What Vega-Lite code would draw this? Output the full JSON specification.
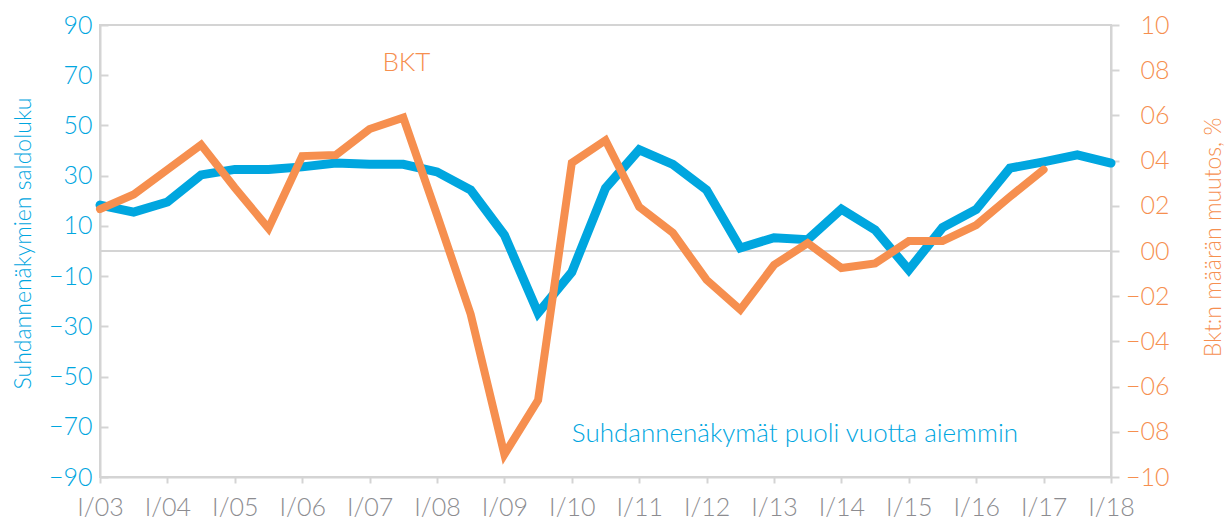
{
  "$schema": "https://vega.github.io/schema/vega-lite/v6.json",
  "width": 1011,
  "height": 452,
  "autosize": {"type": "none"},
  "padding": {"left": 100, "top": 25, "right": 120, "bottom": 43},
  "background": "white",
  "config": {
    "font": "Lato",
    "view": {"stroke": "#d4d4d4", "strokeWidth": 2},
    "axis": {
      "grid": false,
      "domainColor": "#d4d4d4",
      "domainWidth": 2,
      "tickColor": "#d4d4d4",
      "tickWidth": 2,
      "labelFont": "Lato",
      "titleFont": "Lato",
      "labelFontWeight": 300,
      "titleFontWeight": 300,
      "labelFontSize": 25,
      "titleFontSize": 23
    }
  },
  "datasets": {
    "suhd": [
      {"aika": 2003.0, "saldoluku": 18.3},
      {"aika": 2003.5, "saldoluku": 15.5},
      {"aika": 2004.0, "saldoluku": 19.5},
      {"aika": 2004.5, "saldoluku": 30.3},
      {"aika": 2005.0, "saldoluku": 32.5},
      {"aika": 2005.5, "saldoluku": 32.5},
      {"aika": 2006.0, "saldoluku": 33.5},
      {"aika": 2006.5, "saldoluku": 35.0},
      {"aika": 2007.0, "saldoluku": 34.5},
      {"aika": 2007.5, "saldoluku": 34.5},
      {"aika": 2008.0, "saldoluku": 31.5},
      {"aika": 2008.5, "saldoluku": 24.3},
      {"aika": 2009.0, "saldoluku": 6.4},
      {"aika": 2009.5, "saldoluku": -24.7},
      {"aika": 2010.0, "saldoluku": -8.4},
      {"aika": 2010.5, "saldoluku": 25.0},
      {"aika": 2011.0, "saldoluku": 40.3},
      {"aika": 2011.5, "saldoluku": 34.5},
      {"aika": 2012.0, "saldoluku": 24.3},
      {"aika": 2012.5, "saldoluku": 1.2},
      {"aika": 2013.0, "saldoluku": 5.3},
      {"aika": 2013.5, "saldoluku": 4.5},
      {"aika": 2014.0, "saldoluku": 16.7},
      {"aika": 2014.5, "saldoluku": 8.4},
      {"aika": 2015.0, "saldoluku": -7.5},
      {"aika": 2015.5, "saldoluku": 9.3},
      {"aika": 2016.0, "saldoluku": 16.5},
      {"aika": 2016.5, "saldoluku": 33.0},
      {"aika": 2017.0, "saldoluku": 35.5},
      {"aika": 2017.5, "saldoluku": 38.3},
      {"aika": 2018.0, "saldoluku": 35.0}
    ],
    "bkt": [
      {"aika": 2003.0, "bkt": 1.85},
      {"aika": 2003.5, "bkt": 2.5},
      {"aika": 2004.0, "bkt": 3.6},
      {"aika": 2004.5, "bkt": 4.7},
      {"aika": 2005.0, "bkt": 2.8},
      {"aika": 2005.5, "bkt": 1.0},
      {"aika": 2006.0, "bkt": 4.2},
      {"aika": 2006.5, "bkt": 4.25},
      {"aika": 2007.0, "bkt": 5.4},
      {"aika": 2007.5, "bkt": 5.9},
      {"aika": 2008.0, "bkt": 1.6},
      {"aika": 2008.5, "bkt": -2.8},
      {"aika": 2009.0, "bkt": -9.0},
      {"aika": 2009.5, "bkt": -6.6},
      {"aika": 2010.0, "bkt": 3.9},
      {"aika": 2010.5, "bkt": 4.9},
      {"aika": 2011.0, "bkt": 1.95},
      {"aika": 2011.5, "bkt": 0.8},
      {"aika": 2012.0, "bkt": -1.28},
      {"aika": 2012.5, "bkt": -2.6},
      {"aika": 2013.0, "bkt": -0.62},
      {"aika": 2013.5, "bkt": 0.35},
      {"aika": 2014.0, "bkt": -0.75},
      {"aika": 2014.5, "bkt": -0.55},
      {"aika": 2015.0, "bkt": 0.44},
      {"aika": 2015.5, "bkt": 0.44},
      {"aika": 2016.0, "bkt": 1.15},
      {"aika": 2016.5, "bkt": 2.4},
      {"aika": 2017.0, "bkt": 3.6}
    ]
  },
  "layer": [
    {
      "layer": [
        {
          "data": {"values": [{}]},
          "mark": {"type": "rule", "color": "#d4d4d4", "strokeWidth": 2},
          "encoding": {"y": {"datum": 0, "type": "quantitative"}}
        },
        {
          "data": {"name": "suhd"},
          "mark": {"type": "line", "color": "#00A6DF", "strokeWidth": 9, "strokeCap": "round"},
          "encoding": {
            "x": {
              "field": "aika",
              "type": "quantitative",
              "scale": {"domain": [2003, 2018], "nice": false, "zero": false},
              "axis": {
                "title": null,
                "values": [2003, 2004, 2005, 2006, 2007, 2008, 2009, 2010, 2011, 2012, 2013, 2014, 2015, 2016, 2017, 2018],
                "labelExpr": "'I/' + slice(toString(datum.value), 2)",
                "labelColor": "#8c8c90",
                "labelDx": 9,
                "labelPadding": 12,
                "tickSize": 6,
                "labelFlush": false,
                "labelOverlap": false
              }
            },
            "y": {
              "field": "saldoluku",
              "type": "quantitative",
              "scale": {"domain": [-90, 90], "nice": false, "zero": false},
              "axis": {
                "title": "Suhdannenäkymien saldoluku",
                "titleColor": "#00A6DF",
                "labelColor": "#00A6DF",
                "values": [-90, -70, -50, -30, -10, 10, 30, 50, 70, 90],
                "tickSize": -8,
                "labelPadding": 16,
                "labelFlush": false,
                "labelOverlap": false,
                "titleAngle": 270,
                "titleBaseline": "middle",
                "titleX": -77,
                "titleY": 218,
                "titleAnchor": "middle"
              }
            }
          }
        },
        {
          "data": {"values": [{}]},
          "mark": {"type": "text", "text": "Suhdannenäkymät puoli vuotta aiemmin", "color": "#00A6DF", "fontSize": 26, "fontWeight": 300, "align": "left", "baseline": "middle"},
          "encoding": {
            "x": {"datum": 2010.0, "type": "quantitative"},
            "y": {"datum": -73, "type": "quantitative"}
          }
        },
        {
          "data": {"values": [{}]},
          "mark": {"type": "text", "text": "BKT", "color": "#F68F4F", "fontSize": 26, "fontWeight": 300, "align": "left", "baseline": "middle"},
          "encoding": {
            "x": {"datum": 2007.19, "type": "quantitative"},
            "y": {"datum": 75, "type": "quantitative"}
          }
        }
      ]
    },
    {
      "data": {"name": "bkt"},
      "mark": {"type": "line", "color": "#F68F4F", "strokeWidth": 8, "strokeCap": "round"},
      "encoding": {
        "x": {"field": "aika", "type": "quantitative"},
        "y": {
          "field": "bkt",
          "type": "quantitative",
          "scale": {"domain": [-10, 10], "nice": false, "zero": false},
          "axis": {
            "orient": "right",
            "title": "Bkt:n määrän muutos, %",
            "titleColor": "#F68F4F",
            "labelColor": "#F68F4F",
            "values": [-10, -8, -6, -4, -2, 0, 2, 4, 6, 8, 10],
            "labelExpr": "(datum.value < 0 ? '−' : '') + (abs(datum.value) < 10 ? '0' : '') + abs(datum.value)",
            "tickSize": 8,
            "labelAlign": "right",
            "labelPadding": 50,
            "labelFlush": false,
            "labelOverlap": false,
            "titleAngle": 270,
            "titleBaseline": "middle",
            "titleX": 102,
            "titleY": 212,
            "titleAnchor": "middle"
          }
        }
      }
    }
  ],
  "resolve": {"scale": {"y": "independent"}, "axis": {"y": "independent"}}
}
